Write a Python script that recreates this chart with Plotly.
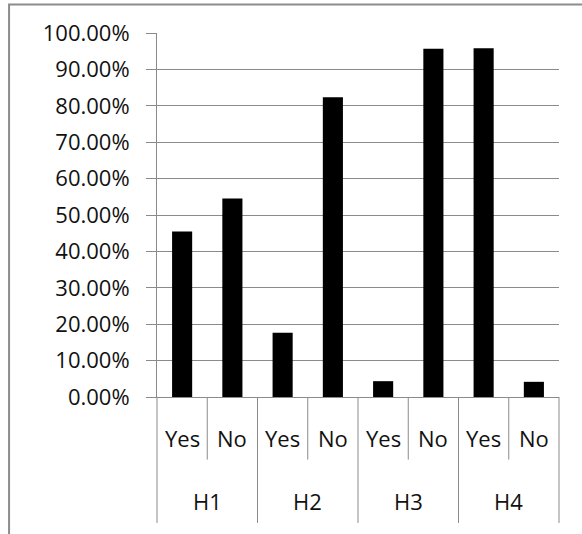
import plotly.graph_objects as go

# Survey results: share of "Yes" / "No" answers for each hypothesis
groups = ["H1", "H2", "H3", "H4"]
answers = ["Yes", "No"]
shares = [0.4545, 0.5455, 0.1765, 0.8235, 0.0435, 0.9565, 0.9583, 0.0417]
y_tick_values = [i / 10 for i in range(11)]

n_bars = len(groups) * len(answers)
x_pos = list(range(n_bars))
answer_labels = answers * len(groups)

AXIS_GRAY = "#8a8a8a"
FONT = "Open Sans"
TEXT = "#111111"

fig = go.Figure(
    go.Bar(
        x=x_pos,
        y=shares,
        width=0.4,
        marker=dict(color="black", line=dict(width=0)),
        hovertemplate="%{y:.2%}<extra></extra>",
    )
)

# Two-level category axis: inner answer labels, outer hypothesis labels
ROW1_Y = -0.112
ROW2_Y = -0.286
INNER_DIV = -0.172
OUTER_DIV = -0.346

annotations = []
for i, lab in enumerate(answer_labels):
    annotations.append(dict(
        x=x_pos[i], y=ROW1_Y, xref="x", yref="paper", text=lab,
        showarrow=False, xanchor="center", yanchor="middle",
        font=dict(family=FONT, size=22, color=TEXT),
    ))
for g, name in enumerate(groups):
    members = x_pos[g * len(answers):(g + 1) * len(answers)]
    annotations.append(dict(
        x=sum(members) / len(members), y=ROW2_Y, xref="x", yref="paper",
        text=name, showarrow=False, xanchor="center", yanchor="middle",
        font=dict(family=FONT, size=22, color=TEXT),
    ))

shapes = []
for b in range(n_bars + 1):
    bottom = OUTER_DIV if b % len(answers) == 0 else INNER_DIV
    shapes.append(dict(
        type="line", xref="paper", yref="paper",
        x0=b / n_bars, x1=b / n_bars, y0=bottom, y1=0,
        line=dict(color=AXIS_GRAY, width=1),
    ))

# Chart frame
shapes.append(dict(
    type="rect", xref="paper", yref="paper",
    x0=-0.368, x1=1.5, y0=-0.6, y1=1.078,
    line=dict(color="#8c8c8c", width=2), fillcolor="rgba(0,0,0,0)", layer="below",
))

fig.update_layout(
    width=582,
    height=534,
    margin=dict(l=157, r=23, t=33, b=137),
    paper_bgcolor="white",
    plot_bgcolor="white",
    showlegend=False,
    bargap=0.6,
    annotations=annotations,
    shapes=shapes,
    xaxis=dict(
        range=[-0.5, n_bars - 0.5],
        showticklabels=False,
        ticks="",
        showgrid=False,
        zeroline=False,
        showline=True,
        linecolor=AXIS_GRAY,
        linewidth=1,
        fixedrange=True,
    ),
    yaxis=dict(
        range=[0, 1],
        tickvals=y_tick_values,
        tickformat=".2%",
        ticks="outside",
        ticklen=10,
        tickcolor=AXIS_GRAY,
        tickwidth=1,
        ticklabelstandoff=12,
        tickfont=dict(family=FONT, size=22, color=TEXT),
        showgrid=True,
        gridcolor=AXIS_GRAY,
        gridwidth=1,
        zeroline=False,
        showline=True,
        linecolor=AXIS_GRAY,
        linewidth=1,
        fixedrange=True,
    ),
)

fig.write_html("out.html")
